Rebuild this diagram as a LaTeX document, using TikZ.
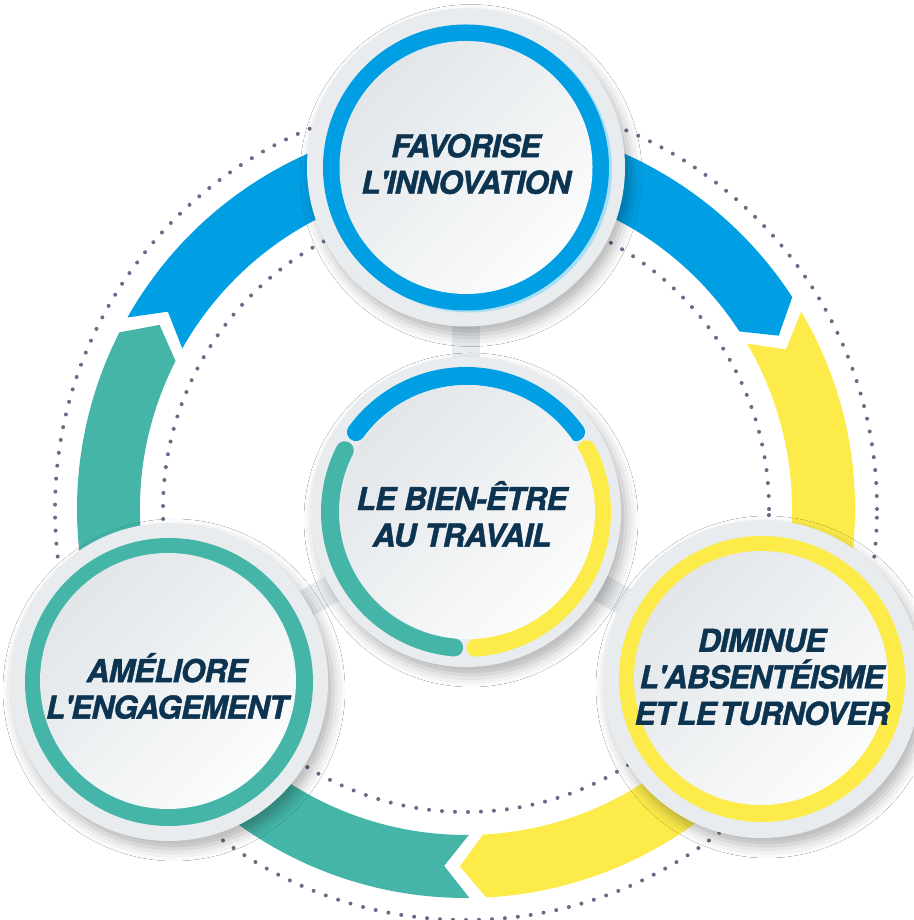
\documentclass[tikz,border=0pt]{standalone}
\usepackage{fontspec}
\usetikzlibrary{shadows.blur}
\newfontfamily\lblfont{TeX Gyre Heros}[Ligatures=TeXOff, BoldItalicFeatures={FakeBold=1.3, LetterSpace=-2.5}]
\definecolor{arrblue}{HTML}{009FE3}
\definecolor{arryellow}{HTML}{FDEB4A}
\definecolor{arrteal}{HTML}{45B5A8}
\definecolor{txtcol}{HTML}{0C3350}
\definecolor{greyring}{HTML}{E8ECEF}
\definecolor{innerA}{HTML}{E2E6E9}
\definecolor{innerB}{HTML}{FBFCFC}
\definecolor{dotcol}{HTML}{6D6988}
\definecolor{paleblue}{HTML}{A9DDF4}
\newcommand\ringseg[2]{%
  \fill[#1] (#2:389) arc[start angle=#2, end angle=#2-117.5, radius=389]
    -- (#2-121.5:357.5) -- (#2-117.5:326)
    arc[start angle=#2-117.5, end angle=#2, radius=326]
    -- (#2-4:357.5) -- cycle;}
\begin{document}
\begin{tikzpicture}[x=1pt,y=1pt,
  lbl/.style={align=center, text=txtcol, inner sep=0pt,
    font=\lblfont\bfseries\itshape\fontsize{31.5}{36.5}\selectfont},
  stem/.style={draw=greyring, line width=28pt},
  outerdisk/.style={fill=greyring, blur shadow={shadow xshift=5pt, shadow yshift=-8pt, shadow blur radius=12pt, shadow opacity=30}},
  innerdisk/.style={top color=innerA, bottom color=innerB, shading angle=45},
  dots/.style={draw=dotcol, line width=4pt, line cap=round, dash pattern=on 0pt off 13pt},
  cring/.style={line width=18pt, line cap=round}]
\useasboundingbox (0,0) rectangle (913,920);
\fill[white] (0,0) rectangle (913,920);
\coordinate (ring) at (466,411);
\coordinate (ctop) at (466,752.5);
\coordinate (cmid) at (466,408);
\coordinate (cleft) at (169,238);
\coordinate (cright) at (762,241);
% dotted circles
\draw[dots] (ring) circle[radius=411];
\draw[dots] (ring) circle[radius=303];
% arrow ring
\begin{scope}[shift={(ring)}]
  \ringseg{arrblue}{150.5}
  \ringseg{arryellow}{30.5}
  \ringseg{arrteal}{-89.5}
\end{scope}
% stems
\draw[stem] (cmid) -- (ctop);
\draw[stem] (cmid) -- (cleft);
\draw[stem] (cmid) -- (cright);
% top circle
\path[outerdisk] (ctop) circle[radius=159];
\fill[paleblue] ([shift={(3,-2)}]ctop) circle[radius=143];
\fill[arrblue] (ctop) circle[radius=143];
\path[innerdisk] (ctop) circle[radius=126.5];
% left circle
\path[outerdisk] (cleft) circle[radius=159];
\fill[arrteal] (cleft) circle[radius=144];
\path[innerdisk] ([shift={(-1,1)}]cleft) circle[radius=128];
% right circle
\path[outerdisk] (cright) circle[radius=159];
\fill[arryellow] (cright) circle[radius=143];
\path[innerdisk] ([shift={(-1,1)}]cright) circle[radius=127];
% centre circle
\path[outerdisk] (cmid) circle[radius=155];
\draw[cring, arrblue] ([shift={(144:136)}]cmid) arc[start angle=144, end angle=36, radius=136];
\draw[cring, arrteal] ([shift={(153:136)}]cmid) arc[start angle=153, end angle=265, radius=136];
\draw[cring, arryellow] ([shift={(27.5:136)}]cmid) arc[start angle=27.5, end angle=-86, radius=136];
\path[innerdisk] ([shift={(2,0)}]cmid) circle[radius=127];
% labels
\node[lbl] (ttop) at (466,756) {FAVORISE\\L'INNOVATION};
\node[lbl] (tmid) at (462,406) {LE BIEN-ÊTRE\\AU TRAVAIL};
\node[lbl] (tleft) at (167,234) {AMÉLIORE\\L'ENGAGEMENT};
\node[lbl] (tright) at (762,243) {DIMINUE\\L'ABSENTÉISME\\ET\hspace{3pt}LE\hspace{3pt}TURNOVER};
\end{tikzpicture}
\end{document}
